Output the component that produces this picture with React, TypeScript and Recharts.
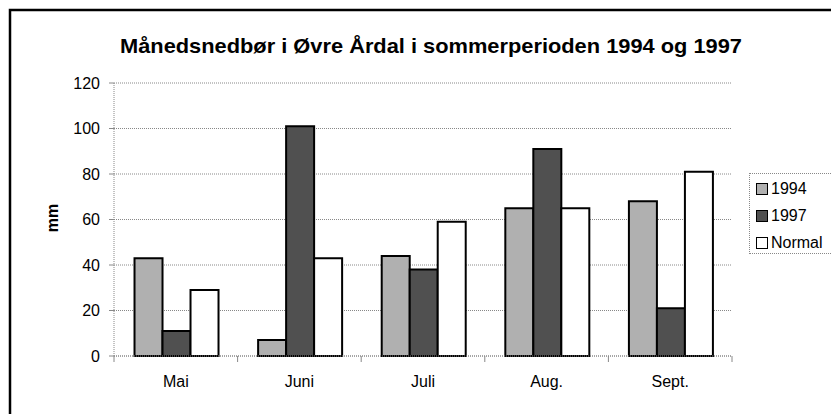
import React from 'react';
import { BarChart, Bar, XAxis, YAxis, CartesianGrid, Legend } from 'recharts';

const categories = ['Mai', 'Juni', 'Juli', 'Aug.', 'Sept.'];
const values1994 = [43, 7, 44, 65, 68];
const values1997 = [11, 101, 38, 91, 21];
const valuesNormal = [29, 43, 59, 65, 81];
const yTicks = [0, 20, 40, 60, 80, 100, 120];
const boundaryTicks = [0, 1, 2, 3, 4, 5];
const seriesNames = ['1994', '1997', 'Normal'];
const seriesColors = ['#b0b0b0', '#505050', '#ffffff'];
const title = 'Månedsnedbør i Øvre Årdal i sommerperioden 1994 og 1997';
const yLabel = 'mm';

const data = categories.map((c, i) => ({
  name: c,
  pos: i + 0.5,
  '1994': values1994[i],
  '1997': values1997[i],
  Normal: valuesNormal[i],
}));

const FONT = '"Liberation Sans", Arial, sans-serif';

const EmptyTick = () => <g />;

const LegendContent = () => (
  <div style={{ fontFamily: FONT, fontSize: 16, color: '#000', paddingTop: 1, paddingLeft: 6 }}>
    {seriesNames.map((n, i) => (
      <div key={n} style={{ display: 'flex', alignItems: 'center', height: 27 }}>
        <span
          style={{
            display: 'inline-block',
            width: 10,
            height: 10,
            border: '1.5px solid #000',
            background: seriesColors[i],
            marginRight: 3,
          }}
        />
        <span>{n}</span>
      </div>
    ))}
  </div>
);

export default function App() {
  return (
    <div style={{ position: 'relative', width: 831, height: 406, background: '#fff' }}>
      <BarChart
        width={831}
        height={406}
        data={data}
        margin={{ top: 75, right: 107, bottom: 28, left: 46 }}
        barCategoryGap="16.6%"
        barGap={0}
      >
        <CartesianGrid xAxisId="cat" horizontal vertical={false} stroke="#888" strokeDasharray="1 1" />
        <XAxis
          xAxisId={0}
          dataKey="pos"
          type="number"
          domain={[0, 5]}
          ticks={boundaryTicks}
          interval={0}
          height={1}
          axisLine={{ stroke: '#888', strokeDasharray: '1 1' }}
          tick={EmptyTick}
          tickLine={{ stroke: '#888' }}
          tickSize={6}
        />
        <XAxis
          xAxisId="cat"
          dataKey="name"
          height={29}
          axisLine={false}
          tickLine={false}
          tickMargin={13}
          tick={{ fill: '#000', fontSize: 16, fontFamily: FONT }}
        />
        <YAxis
          width={60}
          domain={[0, 120]}
          ticks={yTicks}
          interval={0}
          axisLine={{ stroke: '#888', strokeDasharray: '1 1' }}
          tickLine={{ stroke: '#888' }}
          tickSize={5}
          tickMargin={9}
          tick={{ fill: '#000', fontSize: 16, fontFamily: FONT }}
        />
        <Legend
          layout="horizontal"
          verticalAlign="middle"
          align="center"
          content={<LegendContent />}
          wrapperStyle={{
            left: 741,
            top: 165,
            width: 86,
            height: 81,
            border: '1px dotted #888',
            boxSizing: 'border-box',
          }}
        />
        {seriesNames.map((n, i) => (
          <Bar
            key={n}
            xAxisId="cat"
            dataKey={n}
            fill={seriesColors[i]}
            stroke="#000"
            strokeWidth={2}
            isAnimationActive={false}
          />
        ))}
      </BarChart>
      <svg
        width={831}
        height={406}
        style={{ position: 'absolute', left: 0, top: 0, pointerEvents: 'none' }}
      >
        <rect x={2} y={2} width={900} height={500} fill="none" stroke="#000" strokeWidth={2.5} />
        <text
          x={423}
          y={45}
          textAnchor="middle"
          fontFamily={FONT}
          fontWeight="bold"
          fontSize={21}
          textLength={622}
          lengthAdjust="spacingAndGlyphs"
          fill="#000"
        >
          {title}
        </text>
        <text
          x={50}
          y={210}
          transform="rotate(-90 50 210)"
          textAnchor="middle"
          fontFamily={FONT}
          fontWeight="bold"
          fontSize={16}
          fill="#000"
        >
          {yLabel}
        </text>
      </svg>
    </div>
  );
}
